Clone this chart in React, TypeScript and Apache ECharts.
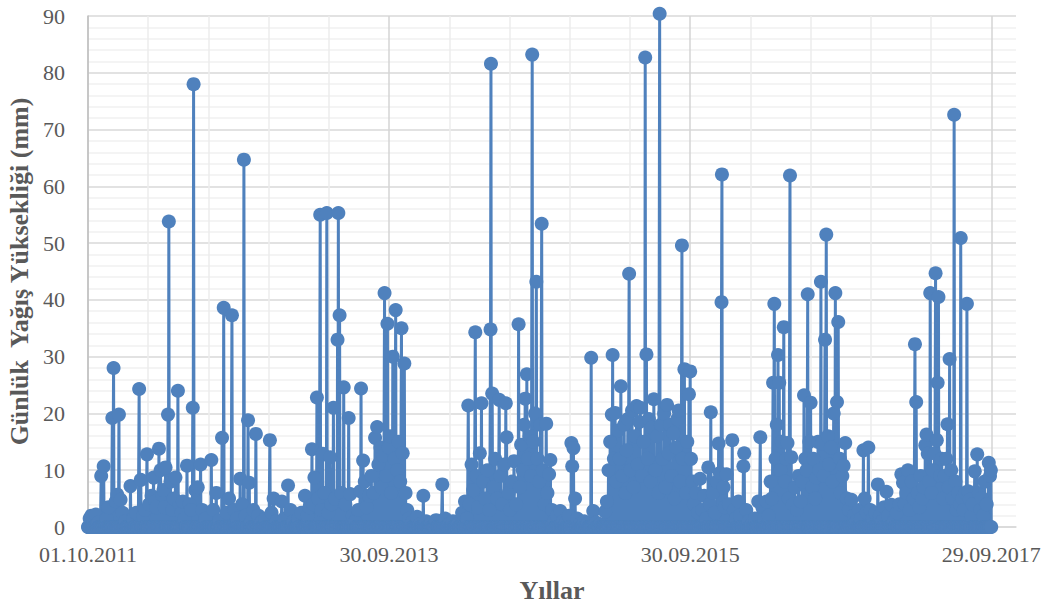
import React, { useEffect, useRef } from "react";
import * as echarts from "echarts";

// Daily rainfall (mm): [day offset from 01.10.2011, mm]
// Days not listed are dry days (0 mm).
const START_DATE = Date.UTC(2011, 9, 1);
const DAY_COUNT = 2191; // 01.10.2011 ... 29.09.2017

const wy2012: [number, number][] = [
  [4, 1.5], [8, 2.0], [13, 1.2], [19, 2.2], [25, 0.8], [32, 9.0], [38, 10.7], [45, 1.5], [50, 3.5],
  [59, 19.2], [62, 28.0], [67, 4.5], [71, 5.7], [75, 19.8], [79, 4.8], [84, 2.5], [91, 1.0], [103, 7.2],
  [110, 1.5], [117, 2.5], [124, 24.3], [128, 8.3], [134, 2.0], [138, 3.0], [143, 12.8], [148, 4.0],
  [154, 5.5], [159, 8.7], [163, 4.5], [166, 3.5], [172, 13.8], [176, 10.0], [180, 5.7], [183, 6.5],
  [186, 3.5], [188, 10.5], [194, 19.8], [196, 53.8], [200, 8.0], [205, 3.0], [208, 5.0], [212, 8.7],
  [218, 24.0], [222, 4.0], [227, 2.5], [230, 4.5], [234, 1.5], [240, 10.8], [246, 4.0], [250, 3.0],
  [254, 21.0], [256, 78.0], [260, 6.5], [266, 7.0], [273, 11.0], [277, 3.0], [285, 1.5], [299, 11.8],
  [304, 3.0], [311, 6.0], [319, 1.2], [325, 15.7], [329, 38.6], [336, 2.5], [342, 5.0], [349, 37.3],
  [355, 3.0], [361, 1.5],
];

const wy2013: [number, number][] = [
  [369, 8.5], [374, 4.0], [378, 64.7], [382, 2.0], [388, 18.8], [391, 7.8], [396, 1.0], [401, 3.0],
  [407, 16.4], [413, 2.0], [420, 0.8], [430, 1.5], [441, 15.3], [445, 2.5], [450, 5.0], [457, 1.0],
  [470, 4.5], [476, 1.5], [485, 7.3], [491, 3.0], [498, 1.0], [510, 1.5], [517, 2.5], [526, 5.5],
  [532, 2.0], [537, 3.5], [543, 13.7], [546, 4.0], [549, 8.7], [555, 22.8], [558, 5.0], [563, 55.0],
  [565, 3.0], [569, 12.9], [573, 6.0], [579, 55.3], [583, 2.5], [587, 12.3], [591, 4.0], [595, 21.0],
  [599, 5.0], [605, 33.0], [607, 55.3], [610, 37.3], [614, 6.0], [620, 24.6], [624, 4.0], [632, 19.2],
  [636, 5.8], [642, 2.0], [648, 1.0], [655, 3.0], [660, 6.3], [662, 24.4], [667, 11.7], [671, 8.0],
  [676, 3.5], [681, 5.5], [687, 9.0], [692, 6.0], [696, 15.7], [701, 17.6], [704, 11.0], [709, 14.0],
  [712, 7.0], [716, 12.5], [719, 41.2], [723, 9.0], [726, 35.8], [729, 14.0],
];

const wy2014: [number, number][] = [
  [732, 16.0], [735, 6.0], [739, 30.0], [743, 12.0], [746, 38.2], [750, 10.0], [753, 15.0], [757, 8.0],
  [760, 35.0], [763, 13.0], [767, 28.8], [770, 6.0], [774, 3.0], [779, 1.5], [786, 0.8], [798, 1.8],
  [805, 0.5], [813, 5.5], [820, 1.0], [832, 0.7], [844, 1.2], [859, 7.5], [866, 1.5], [876, 0.5],
  [885, 1.0], [898, 0.6], [907, 2.5], [914, 4.5], [919, 1.5], [922, 21.4], [925, 4.0], [930, 11.0],
  [934, 6.5], [939, 34.3], [942, 9.0], [946, 3.5], [950, 13.0], [954, 21.8], [958, 8.0], [963, 5.0],
  [968, 10.0], [973, 3.0], [976, 34.8], [977, 81.6], [980, 23.5], [983, 7.0], [987, 12.0], [992, 5.0],
  [997, 22.4], [1000, 9.0], [1004, 4.0], [1009, 11.0], [1013, 21.8], [1015, 15.8], [1020, 6.0],
  [1023, 3.0], [1028, 8.0], [1033, 11.6], [1038, 4.0], [1044, 35.7], [1047, 7.0], [1050, 14.5],
  [1054, 10.0], [1057, 18.0], [1060, 22.6], [1064, 26.9], [1067, 12.0], [1071, 16.0], [1074, 9.0],
  [1077, 83.2], [1080, 15.0], [1084, 20.0], [1087, 43.2], [1090, 12.0], [1094, 8.0],
];

const wy2015: [number, number][] = [
  [1097, 18.0], [1100, 53.4], [1103, 10.0], [1107, 4.0], [1111, 18.2], [1114, 6.0], [1118, 9.3],
  [1121, 11.8], [1125, 3.0], [1130, 1.0], [1137, 2.0], [1145, 2.8], [1152, 1.0], [1159, 0.8],
  [1166, 2.0], [1172, 14.8], [1174, 10.7], [1177, 13.9], [1181, 5.0], [1186, 1.5], [1193, 0.5],
  [1203, 1.0], [1212, 0.6], [1220, 29.8], [1225, 2.8], [1232, 0.8], [1242, 0.5], [1254, 2.7],
  [1258, 4.5], [1262, 10.0], [1266, 15.0], [1270, 19.8], [1272, 30.3], [1275, 12.0], [1278, 20.1],
  [1281, 8.0], [1285, 17.0], [1289, 12.0], [1292, 24.8], [1296, 9.0], [1300, 18.0], [1303, 6.0],
  [1306, 13.5], [1309, 19.0], [1312, 44.6], [1315, 10.0], [1319, 20.5], [1323, 7.0], [1326, 16.0],
  [1330, 21.3], [1333, 11.0], [1337, 18.5], [1339, 21.0], [1343, 9.0], [1347, 15.0], [1351, 82.7],
  [1354, 30.4], [1357, 12.0], [1360, 19.0], [1364, 8.0], [1367, 17.5], [1372, 22.5], [1376, 10.0],
  [1380, 16.0], [1383, 6.0], [1386, 90.4], [1389, 18.0], [1393, 12.0], [1397, 20.0], [1400, 7.0],
  [1404, 21.5], [1408, 13.0], [1411, 18.0], [1415, 9.0], [1419, 16.5], [1422, 5.0], [1426, 14.0],
  [1429, 19.0], [1432, 20.5], [1435, 8.0], [1440, 49.6], [1442, 12.0], [1446, 27.8], [1450, 6.0],
  [1453, 15.0], [1457, 23.4], [1460, 27.4],
];

const wy2016: [number, number][] = [
  [1462, 12.0], [1466, 8.0], [1469, 4.0], [1474, 6.0], [1479, 2.5], [1484, 8.5], [1489, 3.0],
  [1494, 5.5], [1499, 1.5], [1504, 10.5], [1508, 4.0], [1510, 20.2], [1515, 6.0], [1520, 2.5],
  [1525, 8.0], [1529, 14.7], [1532, 9.5], [1536, 39.6], [1537, 62.1], [1541, 7.0], [1544, 3.5],
  [1548, 9.3], [1554, 4.0], [1562, 15.3], [1566, 3.0], [1571, 1.5], [1577, 4.5], [1581, 2.0],
  [1589, 10.7], [1591, 13.0], [1596, 3.0], [1602, 1.0], [1610, 0.5], [1617, 1.5], [1625, 4.5],
  [1630, 15.8], [1635, 3.5], [1640, 1.5], [1645, 4.5], [1650, 2.0], [1655, 8.0], [1658, 5.0],
  [1661, 25.4], [1664, 39.3], [1667, 12.0], [1670, 18.0], [1673, 30.3], [1676, 25.4], [1679, 10.0],
  [1682, 15.0], [1687, 35.2], [1690, 8.0], [1693, 12.0], [1696, 14.8], [1699, 5.0], [1702, 61.9],
  [1705, 12.3], [1709, 4.0], [1714, 7.0], [1719, 3.0], [1723, 9.0], [1728, 4.5], [1732, 8.0],
  [1736, 23.2], [1739, 12.0], [1742, 10.0], [1745, 41.0], [1749, 15.0], [1752, 21.9], [1756, 7.0],
  [1759, 12.0], [1763, 5.0], [1766, 8.7], [1770, 15.0], [1773, 10.0], [1777, 43.2], [1780, 14.7],
  [1784, 9.0], [1787, 33.0], [1790, 51.5], [1794, 16.0], [1797, 11.0], [1801, 14.0], [1805, 8.0],
  [1808, 20.0], [1812, 41.2], [1816, 22.0], [1819, 36.1], [1823, 12.0], [1825, 6.0],
];

const wy2017: [number, number][] = [
  [1829, 9.0], [1832, 10.8], [1836, 14.8], [1840, 5.0], [1845, 3.0], [1851, 4.8], [1857, 2.0],
  [1863, 1.0], [1869, 3.0], [1874, 1.5], [1880, 13.5], [1883, 5.0], [1888, 2.5], [1892, 14.0],
  [1897, 3.0], [1903, 1.5], [1909, 2.5], [1915, 7.5], [1920, 2.0], [1926, 1.0], [1931, 3.5],
  [1936, 6.2], [1940, 2.0], [1948, 3.9], [1954, 1.0], [1961, 2.5], [1967, 4.0], [1972, 9.3],
  [1976, 7.8], [1980, 4.0], [1984, 6.0], [1988, 10.0], [1992, 3.0], [1997, 8.0], [2002, 5.0],
  [2005, 32.2], [2008, 22.0], [2012, 6.0], [2016, 3.5], [2019, 9.0], [2023, 5.0], [2026, 7.0],
  [2030, 14.4], [2033, 16.3], [2036, 12.9], [2040, 8.0], [2042, 41.2], [2045, 6.0], [2048, 10.0],
  [2052, 13.0], [2055, 44.7], [2058, 15.3], [2060, 25.4], [2062, 40.5], [2066, 9.0], [2070, 12.0],
  [2073, 5.0], [2077, 9.0], [2081, 12.0], [2084, 18.1], [2087, 7.0], [2089, 29.6], [2093, 10.0],
  [2096, 5.0], [2100, 72.6], [2103, 8.0], [2106, 3.0], [2110, 6.0], [2114, 4.0], [2116, 50.9],
  [2120, 5.0], [2123, 3.0], [2127, 6.0], [2131, 39.3], [2134, 6.3], [2138, 4.8], [2142, 2.0],
  [2145, 4.0], [2150, 9.8], [2156, 12.8], [2160, 6.0], [2164, 3.0], [2167, 5.1], [2171, 2.0],
  [2174, 8.0], [2179, 4.0], [2184, 11.3], [2187, 9.0], [2189, 10.0],
];

// Axis settings
const X_MAX = 2250; // plot area continues a little past the last day
const GRID_STEP = 146; // vertical gridline step (days)
const LABEL_STEP = 730; // labelled (major) gridline step (days)
const Y_MAX = 90;
const Y_STEP = 10;

const X_TITLE = "Yıllar";
const Y_TITLE = "Günlük  Yağış Yüksekliği (mm)";

const SERIF = '"Times New Roman", "Liberation Serif", "DejaVu Serif", serif';
const BLUE = "#4f81bd";
const TEXT = "#595959";

function formatDay(d: number): string {
  const dt = new Date(START_DATE + d * 86400000);
  const dd = String(dt.getUTCDate()).padStart(2, "0");
  const mm = String(dt.getUTCMonth() + 1).padStart(2, "0");
  return `${dd}.${mm}.${dt.getUTCFullYear()}`;
}

function buildSeries(): [number, number][] {
  const daily: number[] = new Array(DAY_COUNT).fill(0);
  for (const list of [wy2012, wy2013, wy2014, wy2015, wy2016, wy2017]) {
    for (const [d, v] of list) daily[d] = v;
  }
  return daily.map((v, i) => [i, v] as [number, number]);
}

export default function App() {
  const ref = useRef<HTMLDivElement>(null);
  useEffect(() => {
    if (!ref.current) return;
    const chart = echarts.init(ref.current, null, { renderer: "svg" });
    const tickCount = Math.floor(X_MAX / GRID_STEP) + 2;
    const xGridColors: string[] = [];
    for (let i = 0; i < tickCount; i++) {
      const v = i * GRID_STEP;
      if (v > X_MAX - 1 || i === tickCount - 1) xGridColors.push("rgba(0,0,0,0)");
      else xGridColors.push(v % LABEL_STEP === 0 ? "#d4d4d4" : "#ececec");
    }
    chart.setOption({
      animation: false,
      backgroundColor: "#ffffff",
      grid: { left: 88, right: 35, top: 16, bottom: 85, containLabel: false, outerBoundsMode: "none" },
      xAxis: {
        type: "value",
        min: 0,
        max: X_MAX,
        interval: GRID_STEP,
        name: X_TITLE,
        nameLocation: "middle",
        nameGap: 50,
        nameTextStyle: { fontFamily: SERIF, fontWeight: "bold", fontSize: 26, color: TEXT },
        axisLine: { show: true, lineStyle: { color: "#d9d9d9", width: 1.5 } },
        axisTick: { show: false },
        axisLabel: {
          fontFamily: SERIF,
          fontSize: 22,
          color: TEXT,
          margin: 16,
          formatter: (value: number) =>
            value % LABEL_STEP === 0 && value < DAY_COUNT ? formatDay(value) : "",
        },
        splitLine: { show: true, showMaxLine: false, lineStyle: { color: xGridColors, width: 1.5 } },
      },
      yAxis: {
        type: "value",
        min: 0,
        max: Y_MAX,
        interval: Y_STEP,
        name: Y_TITLE,
        nameLocation: "middle",
        nameRotate: 90,
        nameGap: 52,
        nameTextStyle: { fontFamily: SERIF, fontWeight: "bold", fontSize: 26, color: TEXT },
        axisLine: { show: true, lineStyle: { color: "#bfbfbf", width: 1.5 } },
        axisTick: { show: false },
        axisLabel: { fontFamily: SERIF, fontSize: 22, color: TEXT, margin: 23 },
        splitLine: { show: true, lineStyle: { color: "#d9d9d9", width: 1.5 } },
        minorTick: { show: false, splitNumber: 5 },
        minorSplitLine: { show: true, lineStyle: { color: "#f0f0f0", width: 1.5 } },
      },
      series: [
        {
          type: "line",
          data: buildSeries(),
          symbol: "circle",
          symbolSize: 14,
          showSymbol: true,
          clip: false,
          lineStyle: { color: BLUE, width: 3 },
          itemStyle: { color: BLUE },
          z: 2,
        },
      ],
    });
    return () => chart.dispose();
  }, []);
  return (
    <div
      ref={ref}
      style={{ position: "fixed", left: 0, top: 0, width: 1051, height: 612, background: "#ffffff" }}
    />
  );
}
